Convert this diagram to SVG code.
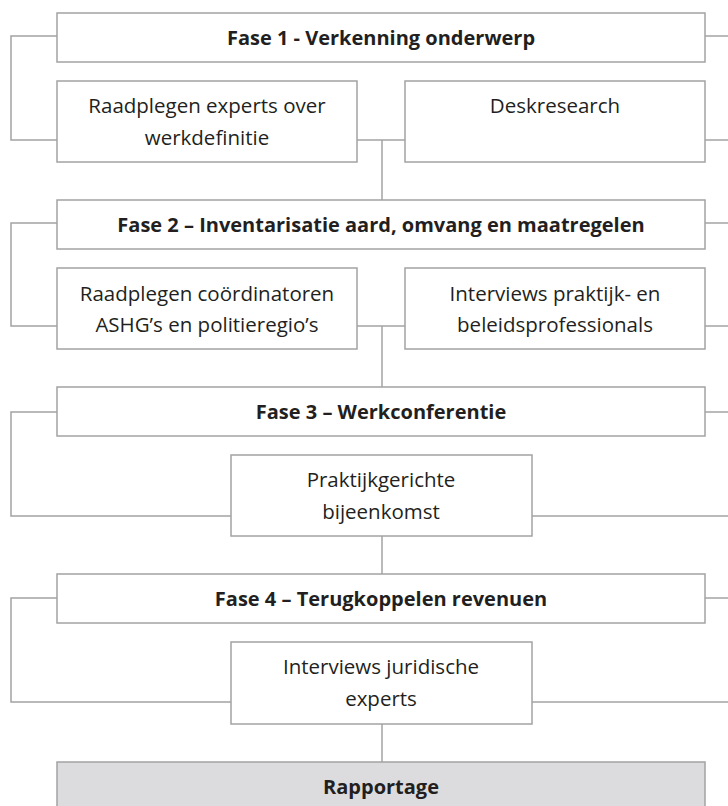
<svg xmlns="http://www.w3.org/2000/svg" width="728" height="806" viewBox="0 0 728 806">
<style>
.box{fill:#ffffff;stroke:#a3a3a3;stroke-width:1.5}
.grey{fill:#dcdcde}
.ln{fill:none;stroke:#a3a3a3;stroke-width:1.5}
text{font-family:"Open Sans","Noto Sans",sans-serif;font-size:20.5px;fill:#231f20;text-anchor:middle;font-variant-ligatures:none}
.b{font-weight:bold;font-size:20px}
</style>
<rect width="728" height="806" fill="#ffffff"/>
<g id="connectors">
<path class="ln" d="M57,36 H11 V140 H57"/>
<path class="ln" d="M705,36 H728"/>
<path class="ln" d="M705,140 H728"/>
<path class="ln" d="M357,140 H405"/>
<path class="ln" d="M382,140 V200"/>
<path class="ln" d="M57,223 H11 V326 H57"/>
<path class="ln" d="M705,223 H728"/>
<path class="ln" d="M705,326 H728"/>
<path class="ln" d="M357,326 H405"/>
<path class="ln" d="M382,326 V387"/>
<path class="ln" d="M57,412 H11 V516 H231"/>
<path class="ln" d="M705,412 H728"/>
<path class="ln" d="M532,516 H728"/>
<path class="ln" d="M382,536 V574"/>
<path class="ln" d="M57,598 H11 V702 H231"/>
<path class="ln" d="M705,598 H728"/>
<path class="ln" d="M532,702 H728"/>
<path class="ln" d="M382,724 V762"/>
</g>
<g id="fase1">
<rect class="box" x="57" y="13" width="648" height="49"/>
<text class="b" x="381" y="45">Fase 1 - Verkenning onderwerp</text>
</g>
<g id="raadplegen-experts">
<rect class="box" x="57" y="81" width="300" height="81"/>
<text x="207" y="113">Raadplegen experts over</text>
<text x="207" y="145">werkdefinitie</text>
</g>
<g id="deskresearch">
<rect class="box" x="405" y="81" width="300" height="81"/>
<text x="555" y="113">Deskresearch</text>
</g>
<g id="fase2">
<rect class="box" x="57" y="200" width="648" height="49"/>
<text class="b" x="381" y="232">Fase 2 – Inventarisatie aard, omvang en maatregelen</text>
</g>
<g id="raadplegen-coordinatoren">
<rect class="box" x="57" y="268" width="300" height="81"/>
<text x="207" y="301">Raadplegen coördinatoren</text>
<text x="207" y="332">ASHG’s en politieregio’s</text>
</g>
<g id="interviews-praktijk">
<rect class="box" x="405" y="268" width="300" height="81"/>
<text x="555" y="301">Interviews praktijk- en</text>
<text x="555" y="332">beleidsprofessionals</text>
</g>
<g id="fase3">
<rect class="box" x="57" y="387" width="648" height="49"/>
<text class="b" x="381" y="419">Fase 3 – Werkconferentie</text>
</g>
<g id="praktijkgerichte">
<rect class="box" x="231" y="455" width="301" height="81"/>
<text x="381" y="487">Praktijkgerichte</text>
<text x="381" y="519">bijeenkomst</text>
</g>
<g id="fase4">
<rect class="box" x="57" y="574" width="648" height="49"/>
<text class="b" x="381" y="606">Fase 4 – Terugkoppelen revenuen</text>
</g>
<g id="interviews-juridisch">
<rect class="box" x="231" y="642" width="301" height="82"/>
<text x="381" y="674">Interviews juridische</text>
<text x="381" y="706">experts</text>
</g>
<g id="rapportage">
<rect class="box grey" x="57" y="762" width="648" height="60"/>
<text class="b" x="381" y="794">Rapportage</text>
</g>
</svg>
